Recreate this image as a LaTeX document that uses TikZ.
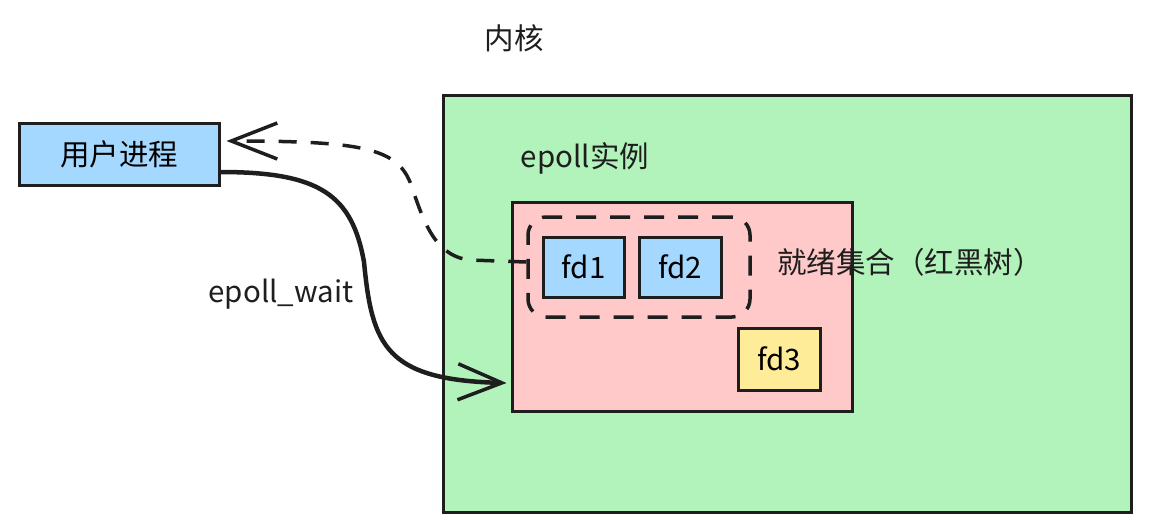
\documentclass[tikz,border=0pt]{standalone}
\usepackage{fontspec}
\setmainfont{Noto Sans CJK SC}
\usetikzlibrary{arrows.meta}
\definecolor{ink}{HTML}{1E1E1E}
\definecolor{kgreen}{HTML}{B2F2BB}
\definecolor{kpink}{HTML}{FFC9C9}
\definecolor{kblue}{HTML}{A5D8FF}
\definecolor{kyellow}{HTML}{FFEC99}
\tikzset{
  box/.style={draw=ink, line width=3pt, inner sep=0pt, font=\fontsize{29.5}{32}\selectfont},
  lbl/.style={text=ink, inner sep=0pt, font=\fontsize{29.5}{32}\selectfont},
  solidarrow/.style={draw=ink, line width=4.5pt, line cap=round, -{Straight Barb[length=44pt,width=36pt,line width=3.5pt]}},
  dasharrow/.style={draw=ink, line width=3.5pt, dash pattern=on 18pt off 14pt, -{Straight Barb[length=46pt,width=36pt,line width=3.5pt]}},
  grp/.style={draw=ink, line width=3.5pt, dash pattern=on 20pt off 14pt, rounded corners=18pt, inner sep=0pt}
}
\begin{document}
\begin{tikzpicture}[x=1pt,y=-1pt]
\useasboundingbox (0,0) rectangle (1150,531);
\node[box, fill=kgreen, minimum width=688pt, minimum height=417pt] (k) at (787,303.5) {};
\node[box, fill=kpink, minimum width=340pt, minimum height=209pt] (p) at (682,306.5) {};
\node[grp, minimum width=222pt, minimum height=100pt] (g) at (639,267) {};
\node[box, fill=kblue, minimum width=81pt, minimum height=60pt] (f1) at (583.5,267) {fd1};
\node[box, fill=kblue, minimum width=82pt, minimum height=60pt] (f2) at (680,267) {fd2};
\node[box, fill=kyellow, minimum width=82pt, minimum height=62pt] (f3) at (779,359) {fd3};
\node[box, fill=kblue, minimum width=200pt, minimum height=62pt] (u) at (119,154) {用户进程};
\node[lbl] (kt) at (514,38) {内核};
\node[lbl] (et) at (585,158) {epoll实例};
\node[lbl] (rt) at (910,262) {就绪集合（红黑树）};
\node[lbl] (wt) at (281,294) {epoll\_wait};
\draw[solidarrow] ([yshift=-18pt]u.east) .. controls (320,172) and (352,195) .. (364,262)
  .. controls (372,345) and (385,380) .. ([xshift=-4pt,yshift=-76.5pt]p.west);
\draw[dasharrow] ([yshift=5pt]g.west) -- (470,260) .. controls (432,256) and (422,215) .. (410,182)
  .. controls (396,148) and (360,141) .. ([xshift=6pt,yshift=13pt]u.east);
\end{tikzpicture}
\end{document}
